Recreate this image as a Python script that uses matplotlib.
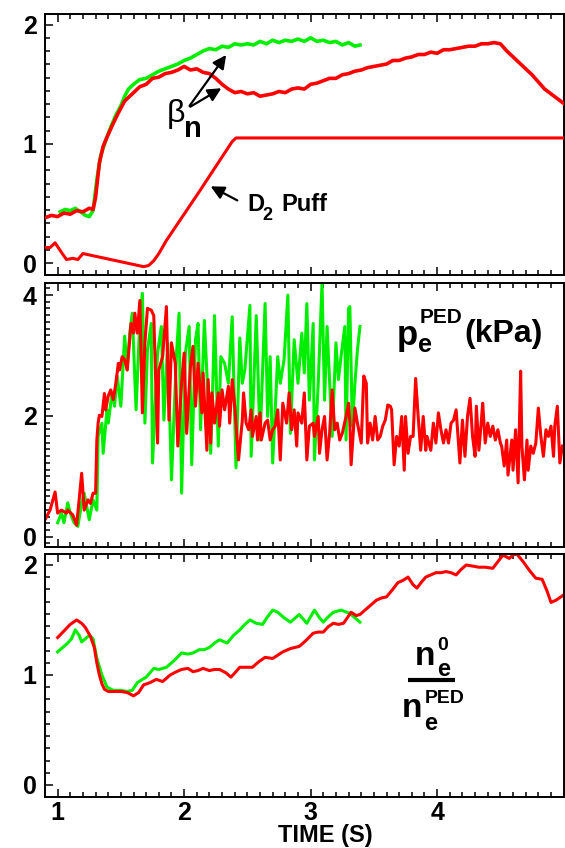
import matplotlib
matplotlib.use("Agg")
import matplotlib.pyplot as plt
from matplotlib.ticker import MultipleLocator, AutoMinorLocator

plt.rcParams['font.family'] = ['Liberation Sans', 'DejaVu Sans']
plt.rcParams['font.weight'] = 'bold'

RED = '#ff0000'
GREEN = '#00ee00'

# beta_n (panel 1)
beta_red_t = [0.90, 0.95, 1.00, 1.05, 1.10, 1.15, 1.20, 1.25, 1.28, 1.30, 1.33, 1.36, 1.40, 1.43,
              1.47, 1.50, 1.53, 1.56, 1.60, 1.65, 1.70, 1.75, 1.80, 1.85, 1.90, 1.95, 2.00, 2.05,
              2.10, 2.15, 2.20, 2.25, 2.30, 2.35, 2.40, 2.45, 2.50, 2.55, 2.60, 2.65, 2.70, 2.75,
              2.80, 2.85, 2.90, 2.95, 3.00, 3.05, 3.10, 3.15, 3.20, 3.25, 3.30, 3.35, 3.40, 3.45,
              3.50, 3.55, 3.60, 3.65, 3.70, 3.75, 3.80, 3.85, 3.90, 3.95, 4.00, 4.05, 4.10, 4.15,
              4.20, 4.25, 4.30, 4.35, 4.40, 4.45, 4.50, 4.55, 4.60, 4.65, 4.70, 4.75, 4.80, 4.85,
              4.90, 4.95, 5.00]
beta_red = [0.38, 0.40, 0.39, 0.42, 0.41, 0.44, 0.43, 0.46, 0.45, 0.55, 0.84, 0.98, 1.08, 1.15,
            1.24, 1.30, 1.36, 1.39, 1.43, 1.48, 1.50, 1.55, 1.56, 1.59, 1.60, 1.62, 1.65, 1.62,
            1.63, 1.60, 1.59, 1.55, 1.50, 1.46, 1.43, 1.44, 1.42, 1.43, 1.40, 1.41, 1.42, 1.44,
            1.43, 1.46, 1.47, 1.46, 1.50, 1.51, 1.53, 1.55, 1.55, 1.58, 1.59, 1.61, 1.62, 1.64,
            1.65, 1.66, 1.67, 1.70, 1.70, 1.72, 1.73, 1.75, 1.75, 1.77, 1.76, 1.79, 1.79, 1.80,
            1.81, 1.82, 1.82, 1.84, 1.84, 1.85, 1.84, 1.78, 1.73, 1.68, 1.63, 1.58, 1.52, 1.46,
            1.42, 1.38, 1.34]
beta_green_t = [1.02, 1.06, 1.10, 1.14, 1.18, 1.22, 1.25, 1.28, 1.31, 1.34, 1.38, 1.42, 1.46, 1.50,
                1.53, 1.56, 1.60, 1.65, 1.70, 1.75, 1.80, 1.85, 1.90, 1.95, 2.00, 2.05, 2.10, 2.15,
                2.20, 2.25, 2.30, 2.35, 2.40, 2.45, 2.50, 2.55, 2.60, 2.65, 2.70, 2.75, 2.80, 2.85,
                2.90, 2.95, 3.00, 3.05, 3.10, 3.15, 3.20, 3.25, 3.30, 3.35, 3.39]
beta_green = [0.43, 0.45, 0.44, 0.46, 0.43, 0.40, 0.39, 0.44, 0.70, 0.90, 1.03, 1.14, 1.24, 1.32,
              1.40, 1.46, 1.50, 1.54, 1.55, 1.58, 1.61, 1.63, 1.65, 1.67, 1.70, 1.72, 1.75, 1.78,
              1.80, 1.79, 1.82, 1.81, 1.84, 1.83, 1.84, 1.83, 1.86, 1.84, 1.87, 1.85, 1.87, 1.86,
              1.88, 1.86, 1.89, 1.86, 1.87, 1.85, 1.86, 1.83, 1.85, 1.82, 1.83]

# D2 puff
puff_t = [0.88, 0.94, 0.98, 1.03, 1.07, 1.12, 1.16, 1.20, 1.68, 1.72, 1.76, 1.80, 1.86, 2.12, 2.38, 2.41, 5.00]
puff = [0.13, 0.13, 0.17, 0.09, 0.03, 0.04, 0.03, 0.08, -0.03, -0.02, 0.02, 0.08, 0.19, 0.60, 1.02, 1.05, 1.05]

# pedestal electron pressure (panel 2)
pe_red_t = [0.90, 0.94, 0.98, 1.00, 1.03, 1.07, 1.08, 1.12, 1.15, 1.17, 1.19, 1.21, 1.24, 1.26,
            1.28, 1.30, 1.31, 1.32, 1.33, 1.35, 1.37, 1.38, 1.40, 1.42, 1.44, 1.46, 1.48, 1.49,
            1.51, 1.53, 1.55, 1.58, 1.60, 1.61, 1.63, 1.65, 1.67, 1.69, 1.71, 1.74, 1.76, 1.79,
            1.80, 1.83, 1.86, 1.88, 1.90, 1.93, 1.95, 1.98, 2.00, 2.02, 2.05, 2.07, 2.09, 2.11,
            2.14, 2.15, 2.18, 2.19, 2.21, 2.22, 2.24, 2.27, 2.28, 2.30, 2.32, 2.35, 2.36, 2.38,
            2.40, 2.43, 2.46, 2.47, 2.49, 2.51, 2.53, 2.54, 2.57, 2.58, 2.60, 2.61, 2.64, 2.66,
            2.68, 2.70, 2.72, 2.74, 2.76, 2.78, 2.81, 2.83, 2.85, 2.87, 2.89, 2.90, 2.93, 2.95,
            2.97, 2.99, 3.02, 3.03, 3.06, 3.07, 3.09, 3.11, 3.13, 3.15, 3.17, 3.19, 3.21, 3.23,
            3.25, 3.28, 3.30, 3.31, 3.32, 3.35, 3.37, 3.39, 3.40, 3.42, 3.44, 3.45, 3.47, 3.49,
            3.51, 3.53, 3.55, 3.57, 3.59, 3.61, 3.63, 3.64, 3.66, 3.68, 3.70, 3.72, 3.74, 3.75,
            3.77, 3.79, 3.81, 3.83, 3.85, 3.87, 3.89, 3.91, 3.92, 3.95, 3.97, 3.99, 4.01, 4.03,
            4.05, 4.07, 4.09, 4.11, 4.13, 4.15, 4.18, 4.20, 4.22, 4.24, 4.26, 4.28, 4.30, 4.31,
            4.33, 4.35, 4.36, 4.38, 4.40, 4.42, 4.44, 4.46, 4.48, 4.50, 4.51, 4.53, 4.55, 4.56,
            4.59, 4.60, 4.62, 4.64, 4.66, 4.67, 4.69, 4.71, 4.72, 4.74, 4.76, 4.78, 4.80, 4.82,
            4.84, 4.86, 4.88, 4.90, 4.92, 4.93, 4.95, 4.97, 4.99]
pe_red = [0.28, 0.44, 0.74, 0.39, 0.44, 0.39, 0.44, 0.36, 0.19, 0.61, 1.05, 0.44, 0.61, 0.55,
          0.72, 0.72, 1.60, 1.88, 2.01, 1.99, 2.37, 2.10, 2.33, 2.43, 2.27, 2.54, 2.87, 2.76,
          2.98, 2.93, 2.76, 3.53, 3.37, 3.70, 3.37, 3.91, 2.05, 3.21, 3.78, 3.75, 3.66, 1.55,
          2.76, 2.98, 3.81, 1.93, 3.21, 2.87, 1.50, 2.54, 3.04, 1.71, 2.82, 3.15, 2.16, 2.87,
          2.05, 2.71, 1.43, 2.60, 1.55, 2.38, 1.88, 2.38, 1.83, 2.43, 2.10, 2.49, 1.88, 2.60,
          2.16, 1.27, 1.93, 2.38, 1.88, 1.77, 2.10, 1.66, 1.99, 1.60, 2.05, 1.60, 1.88, 1.93,
          1.60, 1.77, 1.83, 2.10, 1.27, 2.21, 1.88, 2.38, 1.77, 2.10, 1.50, 2.05, 1.88, 2.38,
          1.27, 1.83, 1.88, 1.66, 1.99, 1.38, 1.77, 1.99, 1.27, 1.71, 2.43, 1.77, 1.88, 1.60,
          1.71, 1.99, 2.21, 1.88, 1.19, 2.13, 1.88, 1.66, 1.55, 2.66, 2.54, 1.55, 1.88, 1.60,
          1.99, 1.60, 1.66, 1.83, 1.93, 2.18, 2.16, 2.10, 1.19, 1.66, 1.50, 1.99, 1.10, 1.99,
          1.38, 1.66, 1.66, 2.62, 1.99, 1.43, 1.99, 1.43, 1.66, 1.43, 1.88, 1.55, 2.05, 1.77,
          1.55, 1.77, 1.55, 1.88, 1.93, 2.10, 1.22, 1.93, 1.33, 1.99, 2.29, 1.66, 1.33, 2.16,
          1.43, 1.93, 2.21, 1.55, 1.88, 1.66, 1.83, 1.60, 1.77, 1.55, 1.50, 1.17, 1.60, 1.02,
          1.60, 1.10, 1.77, 0.89, 2.74, 1.50, 0.94, 1.60, 1.10, 1.50, 1.38, 1.55, 2.13, 1.66,
          1.33, 1.77, 1.66, 1.83, 1.33, 1.83, 2.16, 1.22, 1.50]
pe_green_t = [1.00, 1.03, 1.05, 1.08, 1.10, 1.13, 1.16, 1.19, 1.21, 1.25, 1.28, 1.31, 1.32, 1.35,
              1.36, 1.39, 1.40, 1.43, 1.45, 1.47, 1.50, 1.53, 1.55, 1.57, 1.59, 1.62, 1.65, 1.67,
              1.69, 1.71, 1.74, 1.75, 1.79, 1.82, 1.84, 1.87, 1.90, 1.94, 1.96, 1.98, 2.01, 2.04,
              2.06, 2.09, 2.11, 2.13, 2.16, 2.21, 2.23, 2.24, 2.27, 2.29, 2.32, 2.35, 2.38, 2.41,
              2.44, 2.46, 2.48, 2.52, 2.53, 2.57, 2.60, 2.64, 2.66, 2.68, 2.70, 2.74, 2.76, 2.79,
              2.82, 2.84, 2.87, 2.90, 2.93, 2.95, 2.97, 2.99, 3.02, 3.03, 3.06, 3.09, 3.11, 3.13,
              3.17, 3.20, 3.22, 3.24, 3.27, 3.28, 3.30, 3.31, 3.33, 3.35, 3.37, 3.39]
pe_green = [0.23, 0.39, 0.23, 0.56, 0.39, 0.23, 0.17, 0.56, 0.72, 0.28, 0.61, 0.44, 1.66, 1.88,
            1.38, 2.10, 1.88, 2.38, 2.16, 2.66, 2.16, 3.32, 2.76, 3.37, 3.70, 2.10, 3.58, 4.03,
            1.88, 3.09, 3.53, 1.22, 3.04, 3.48, 1.93, 3.21, 0.94, 3.04, 3.70, 0.72, 3.04, 3.48,
            1.19, 3.26, 3.53, 1.77, 3.58, 1.38, 2.76, 3.66, 1.50, 2.98, 2.87, 2.54, 3.64, 1.14,
            3.29, 2.54, 2.76, 3.83, 1.33, 3.66, 1.60, 3.86, 1.99, 2.98, 1.22, 2.98, 2.54, 2.93,
            4.00, 1.71, 3.26, 2.54, 3.37, 2.71, 3.86, 2.26, 3.53, 1.27, 2.54, 4.20, 2.26, 3.48,
            1.66, 3.21, 2.60, 2.98, 3.48, 1.60, 3.78, 3.81, 1.83, 2.54, 3.09, 3.48]

# n_e0 / n_e_ped (panel 3)
nr_red_t = [1.00, 1.05, 1.10, 1.15, 1.19, 1.22, 1.26, 1.29, 1.31, 1.33, 1.35, 1.37, 1.40, 1.44,
            1.50, 1.55, 1.60, 1.64, 1.68, 1.73, 1.78, 1.83, 1.89, 1.94, 1.98, 2.03, 2.07, 2.11,
            2.15, 2.20, 2.24, 2.28, 2.33, 2.37, 2.41, 2.44, 2.49, 2.54, 2.59, 2.64, 2.70, 2.74,
            2.78, 2.84, 2.91, 2.96, 3.02, 3.06, 3.10, 3.14, 3.18, 3.22, 3.26, 3.29, 3.32, 3.36,
            3.39, 3.45, 3.52, 3.56, 3.60, 3.65, 3.69, 3.73, 3.77, 3.81, 3.84, 3.88, 3.91, 3.95,
            3.99, 4.03, 4.07, 4.11, 4.15, 4.19, 4.23, 4.28, 4.33, 4.38, 4.44, 4.48, 4.52, 4.57,
            4.60, 4.63, 4.68, 4.73, 4.78, 4.83, 4.87, 4.90, 4.94, 4.99]
nr_red = [1.34, 1.40, 1.46, 1.50, 1.47, 1.43, 1.35, 1.25, 1.11, 1.00, 0.92, 0.87, 0.85, 0.85,
          0.85, 0.84, 0.81, 0.84, 0.91, 0.93, 0.96, 0.94, 1.00, 1.03, 1.05, 1.06, 1.03, 1.04,
          1.06, 1.04, 1.05, 1.05, 1.02, 0.98, 1.03, 1.07, 1.07, 1.07, 1.12, 1.16, 1.15, 1.18,
          1.21, 1.24, 1.26, 1.31, 1.38, 1.39, 1.39, 1.44, 1.47, 1.46, 1.47, 1.52, 1.57, 1.54,
          1.55, 1.61, 1.68, 1.70, 1.71, 1.78, 1.84, 1.86, 1.89, 1.82, 1.79, 1.85, 1.89, 1.91,
          1.93, 1.93, 1.94, 1.93, 1.91, 1.96, 2.00, 1.99, 1.98, 1.98, 1.97, 2.03, 2.09, 2.06,
          2.09, 2.10, 2.03, 1.95, 1.88, 1.87, 1.76, 1.66, 1.68, 1.72]
nr_green_t = [1.00, 1.04, 1.08, 1.11, 1.14, 1.17, 1.19, 1.22, 1.25, 1.28, 1.31, 1.35, 1.39, 1.44,
              1.50, 1.55, 1.59, 1.63, 1.67, 1.70, 1.76, 1.80, 1.86, 1.92, 1.98, 2.03, 2.07, 2.12,
              2.16, 2.20, 2.24, 2.28, 2.34, 2.39, 2.44, 2.48, 2.52, 2.57, 2.62, 2.66, 2.70, 2.74,
              2.79, 2.84, 2.88, 2.91, 2.97, 3.03, 3.07, 3.10, 3.14, 3.18, 3.24, 3.31, 3.35, 3.39]
nr_green = [1.21, 1.25, 1.29, 1.33, 1.41, 1.36, 1.30, 1.33, 1.36, 1.33, 1.15, 1.00, 0.89, 0.86,
            0.86, 0.85, 0.86, 0.93, 0.96, 0.98, 1.06, 1.05, 1.07, 1.13, 1.20, 1.19, 1.20, 1.23,
            1.23, 1.25, 1.29, 1.32, 1.29, 1.36, 1.41, 1.46, 1.50, 1.47, 1.46, 1.53, 1.59, 1.57,
            1.52, 1.48, 1.52, 1.55, 1.47, 1.59, 1.52, 1.48, 1.53, 1.57, 1.59, 1.56, 1.52, 1.48]

fig = plt.figure(figsize=(5.65, 8.48), dpi=100)
left, width = 0.0796, 0.918
ax1 = fig.add_axes([left, 0.6757, width, 0.3078])
ax2 = fig.add_axes([left, 0.3550, width, 0.3113])
ax3 = fig.add_axes([left, 0.0601, width, 0.2866])

ax1.plot(beta_red_t, beta_red, color=RED, lw=2.6, zorder=3)
ax1.plot(beta_green_t, beta_green, color=GREEN, lw=2.6, zorder=2)
ax1.plot(puff_t, puff, color=RED, lw=2.2, zorder=3)

ax2.plot(pe_green_t, pe_green, color=GREEN, lw=2.2)
ax2.plot(pe_red_t, pe_red, color=RED, lw=2.2)

ax3.plot(nr_green_t, nr_green, color=GREEN, lw=2.2)
ax3.plot(nr_red_t, nr_red, color=RED, lw=2.2)

ylims = [(-0.1, 2.09), (-0.17, 4.2), (-0.11, 2.1)]
yticks = [[0, 1, 2], [0, 2, 4], [0, 1, 2]]
yminor = [9, 18, 9]
for ax, yl, yt, nm in zip([ax1, ax2, ax3], ylims, yticks, yminor):
    ax.set_xlim(0.9, 5.0)
    ax.set_ylim(*yl)
    ax.set_xticks([1, 2, 3, 4])
    ax.xaxis.set_minor_locator(MultipleLocator(0.1))
    ax.set_yticks(yt)
    ax.yaxis.set_minor_locator(AutoMinorLocator(nm))
    ax.tick_params(which='both', direction='in', top=True, right=False, width=1.1)
    ax.tick_params(which='major', length=6, labelsize=18, pad=6)
    ax.tick_params(which='minor', length=3.5)
    for s in ax.spines.values():
        s.set_linewidth(1.4)
    for lab in ax.get_yticklabels():
        lab.set_fontweight('bold')

ax1.tick_params(labelbottom=False)
ax2.tick_params(labelbottom=False)
ax3.tick_params(axis='x', which='major', pad=3)
for lab in ax3.get_xticklabels():
    lab.set_fontweight('bold')

fig.text(0.575, 0.007, 'TIME (S)', ha='center', va='baseline', fontsize=17, fontweight='bold')

# annotations panel 1
arw = dict(arrowstyle='-|>,head_length=0.8,head_width=0.4', color='black', lw=1.6)
ax1.annotate('', xy=(2.345, 1.765), xytext=(2.03, 1.30), arrowprops=arw)
ax1.annotate('', xy=(2.313, 1.479), xytext=(2.03, 1.30), arrowprops=arw)
ax1.text(1.863, 1.185, 'β', fontsize=23, fontweight='normal', ha='left', va='baseline')
ax1.text(2.0, 1.06, 'n', fontsize=21, fontweight='bold', ha='left', va='baseline')
ax1.annotate('', xy=(2.19, 0.655), xytext=(2.44, 0.515), arrowprops=arw)
ax1.text(2.50, 0.437, 'D', fontsize=17, fontweight='bold', ha='left', va='baseline')
ax1.text(2.62, 0.361, '2', fontsize=13, fontweight='bold', ha='left', va='baseline')
ax1.text(2.77, 0.437, 'Puff', fontsize=17, fontweight='bold', ha='left', va='baseline')

# panel 2 label
ax2.text(3.68, 3.17, 'p', fontsize=25, fontweight='bold', ha='left', va='baseline')
ax2.text(3.845, 3.06, 'e', fontsize=18, fontweight='bold', ha='left', va='baseline')
ax2.text(3.86, 3.54, 'PED', fontsize=15, fontweight='bold', ha='left', va='baseline')
ax2.text(4.215, 3.22, '(kPa)', fontsize=23, fontweight='bold', ha='left', va='baseline')

# panel 3 label (fraction)
ax3.text(3.82, 1.091, 'n', fontsize=24, fontweight='bold', ha='left', va='baseline')
ax3.text(4.0, 0.99, 'e', fontsize=17, fontweight='bold', ha='left', va='baseline')
ax3.text(4.0, 1.227, '0', fontsize=14, fontweight='bold', ha='left', va='baseline')
ax3.plot([3.766, 4.144], [0.955, 0.955], color='black', lw=3, solid_capstyle='butt')
ax3.text(3.72, 0.618, 'n', fontsize=24, fontweight='bold', ha='left', va='baseline')
ax3.text(3.90, 0.50, 'e', fontsize=17, fontweight='bold', ha='left', va='baseline')
ax3.text(3.90, 0.745, 'PED', fontsize=14, fontweight='bold', ha='left', va='baseline')

fig.savefig('out.png', dpi=100)
